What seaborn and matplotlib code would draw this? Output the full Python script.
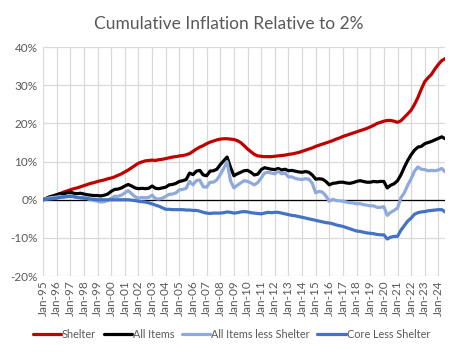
import numpy as np
import pandas as pd
import matplotlib
matplotlib.use("Agg")
import matplotlib.pyplot as plt
import matplotlib.dates as mdates
from matplotlib.lines import Line2D
import seaborn as sns

# Quarterly observations (Jan, Apr, Jul, Oct) from Jan-95 to Jul-24, in percent
start_date = "1995-01-01"
n_points = 119

shelter = [
    0.0, 0.3, 0.7, 1.0,   1.3, 1.6, 2.0, 2.3,   2.6, 2.9, 3.1, 3.4,
    3.7, 4.0, 4.3, 4.5,   4.8, 5.0, 5.2, 5.5,   5.7, 6.0, 6.4, 6.8,
    7.3, 7.8, 8.4, 9.0,   9.6, 9.9, 10.2, 10.3, 10.4, 10.3, 10.5, 10.6,
    10.8, 11.0, 11.2, 11.3, 11.5, 11.6, 11.8, 12.1, 12.7, 13.3, 13.8, 14.2,
    14.7, 15.1, 15.4, 15.7, 15.9, 16.0, 16.0, 15.9, 15.8, 15.5, 15.0, 14.2,
    13.3, 12.6, 11.9, 11.5, 11.4, 11.3, 11.3, 11.3, 11.4, 11.5, 11.6, 11.7,
    11.9, 12.0, 12.2, 12.4, 12.7, 13.0, 13.3, 13.6, 14.0, 14.3, 14.6, 14.9,
    15.2, 15.5, 15.9, 16.2, 16.6, 16.9, 17.2, 17.5, 17.8, 18.1, 18.4, 18.7,
    19.1, 19.5, 20.0, 20.3, 20.6, 20.8, 20.8, 20.6, 20.3, 20.7, 21.6, 22.5,
    23.5, 25.0, 26.8, 29.0, 31.0, 32.0, 32.9, 34.3, 35.5, 36.5, 37.0,
]

all_items = [
    0.0, 0.4, 0.8, 1.0,   1.3, 1.6, 1.5, 1.8,   2.0, 1.7, 1.6, 1.7,
    1.5, 1.3, 1.2, 1.1,   1.1, 1.0, 1.2, 1.5,   2.2, 2.7, 2.8, 3.1,
    3.6, 4.0, 3.6, 3.1,   2.9, 3.0, 2.9, 3.0,   3.6, 3.0, 2.9, 3.1,
    3.3, 3.9, 4.0, 4.3,   4.8, 5.0, 5.3, 7.0,   6.6, 7.5, 7.7, 6.5,
    6.3, 7.5, 7.6, 8.0,   9.2, 10.2, 11.2, 8.5, 6.3, 6.8, 7.2, 7.6,
    7.7, 7.2, 6.5, 6.7,   7.9, 8.4, 8.2, 8.0,   7.9, 8.2, 7.8, 8.0,
    7.6, 7.7, 7.5, 7.3,   7.2, 7.4, 7.2, 6.5,   5.4, 5.5, 5.4, 4.8,
    3.9, 4.3, 4.4, 4.6,   4.6, 4.4, 4.3, 4.5,   4.8, 5.0, 4.8, 4.6,
    4.6, 4.8, 4.7, 4.8,   4.8, 3.1, 3.8, 4.2,   5.0, 6.5, 8.5, 10.3,
    11.8, 13.0, 13.8, 14.0, 14.7, 15.0, 15.3, 15.7, 16.1, 16.5, 16.0,
]

all_less_shelter = [
    0.0, 0.3, 0.5, 0.6,   0.7, 0.9, 0.7, 0.9,   1.1, 0.8, 0.6, 0.6,
    0.6, 0.3, 0.0, -0.2,  -0.4, -0.6, -0.5, -0.2, 0.4, 0.9, 0.9, 1.2,
    1.8, 2.4, 1.6, 0.8,   0.4, 0.6, 0.5, 0.6,   1.2, 0.3, 0.2, 0.4,
    0.9, 1.4, 1.5, 1.8,   2.6, 2.7, 3.0, 4.8,   3.9, 5.0, 5.2, 3.4,
    3.3, 4.6, 4.6, 5.2,   6.6, 8.2, 10.0, 5.0,  3.1, 3.8, 4.4, 5.0,
    4.8, 4.4, 3.9, 4.5,   5.7, 7.0, 7.2, 7.0,   6.8, 7.5, 6.8, 7.0,
    6.0, 6.0, 5.6, 5.4,   5.3, 5.5, 5.4, 4.3,   1.8, 2.2, 2.0, 1.0,
    -0.4, 0.1, -0.2, -0.3, -0.4, -0.6, -0.8, -0.8, -1.1, -1.0, -1.3, -1.4,
    -1.6, -1.6, -2.0, -2.0, -1.8, -4.1, -3.3, -2.8, -2.2, 0.5, 1.8, 3.8,
    5.5, 7.5, 8.6, 8.0,   7.9, 7.6, 7.7, 7.6,   7.8, 8.2, 7.3,
]

core_less_shelter = [
    0.0, 0.1, 0.2, 0.3,   0.4, 0.6, 0.7, 0.8,   0.9, 0.8, 0.6, 0.5,
    0.4, 0.3, 0.2, 0.1,   0.0, 0.0, 0.0, 0.0,   0.0, 0.0, 0.0, 0.0,
    0.0, 0.0, -0.1, -0.2, -0.4, -0.5, -0.6, -0.8, -1.1, -1.4, -1.7, -2.1,
    -2.5, -2.5, -2.6, -2.6, -2.6, -2.6, -2.7, -2.7, -2.8, -2.8, -3.0, -3.3,
    -3.5, -3.6, -3.5, -3.5, -3.5, -3.4, -3.2, -3.3, -3.5, -3.4, -3.2, -3.1,
    -3.2, -3.4, -3.5, -3.6, -3.7, -3.5, -3.3, -3.4, -3.3, -3.3, -3.5, -3.7,
    -3.9, -4.1, -4.2, -4.4, -4.6, -4.8, -5.0, -5.2, -5.4, -5.6, -5.8, -6.0,
    -6.1, -6.3, -6.6, -6.8, -7.0, -7.3, -7.6, -7.9, -8.2, -8.3, -8.5, -8.7,
    -8.8, -8.9, -9.1, -9.2, -9.2, -10.3, -9.8, -9.6, -9.6, -8.0, -6.8, -5.6,
    -4.8, -3.8, -3.4, -3.2, -3.1, -2.9, -2.8, -2.7, -2.6, -2.6, -3.2,
]

series_names = ["Shelter", "All Items", "All Items less Shelter", "Core Less Shelter"]
series_colors = ["#C00000", "#000000", "#8EA9DB", "#4472C4"]

dates = pd.date_range(start_date, periods=n_points, freq="QS")
frames = []
for name, vals in zip(series_names, [shelter, all_items, all_less_shelter, core_less_shelter]):
    frames.append(pd.DataFrame({"date": dates, "value": np.array(vals) / 100.0, "series": name}))
df = pd.concat(frames, ignore_index=True)

sns.set_style("white")
plt.rcParams["font.family"] = ["Lato", "DejaVu Sans"]

fig = plt.figure(figsize=(4.58, 3.55), dpi=100)
ax = fig.add_axes([0.094, 0.2225, 0.878, 0.6445])

grid_col = "#D9D9D9"
text_col = "#595959"

sns.lineplot(data=df, x="date", y="value", hue="series", hue_order=series_names,
             palette=series_colors, linewidth=2.3, legend=False, ax=ax, zorder=3)

ax.set_xlim(pd.Timestamp("1995-01-01"), pd.Timestamp("2024-07-01"))
ax.set_ylim(-0.2, 0.4)
ax.set_yticks(np.arange(-0.2, 0.41, 0.1))
ax.yaxis.set_major_formatter(matplotlib.ticker.FuncFormatter(lambda v, p: f"{v*100:.0f}%"))
ax.xaxis.set_major_locator(mdates.YearLocator(1, month=1, day=1))
ax.xaxis.set_major_formatter(mdates.DateFormatter("%b-%y"))
for lab in ax.get_xticklabels():
    lab.set_rotation(90)

ax.grid(True, color=grid_col, linewidth=0.9, zorder=0)
ax.axhline(0, color="black", linewidth=0.9, zorder=2)
for s in ax.spines.values():
    s.set_visible(False)
ax.tick_params(axis="x", length=0, labelsize=8.5, labelcolor=text_col, pad=3)
ax.tick_params(axis="y", length=0, labelsize=8.5, labelcolor=text_col, pad=4)
ax.set_xlabel("")
ax.set_ylabel("")

fig.suptitle("Cumulative Inflation Relative to 2%", x=0.5, y=0.955, fontsize=12.5, color=text_col)

handles = [Line2D([0], [0], color=c, lw=2.3) for c in series_colors]
fig.legend(handles, series_names, loc="center", bbox_to_anchor=(0.505, 0.057), ncol=4,
           frameon=False, fontsize=7.8, handlelength=2.6, handletextpad=0.1,
           columnspacing=0.7, labelcolor=text_col)

fig.savefig("out.png", dpi=100)
